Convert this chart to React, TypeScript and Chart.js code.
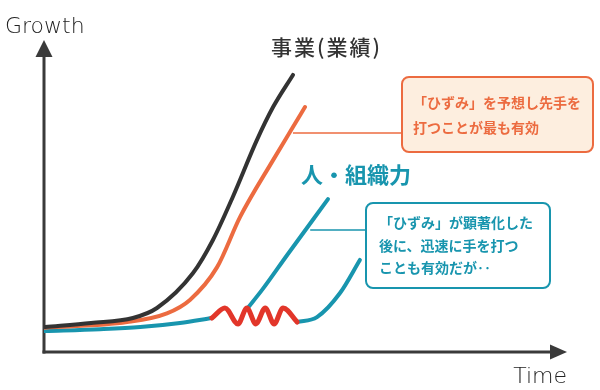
import React, { useEffect, useRef } from "react";
import { Chart, registerables } from "chart.js";

Chart.register(...registerables);

// Time (x) and Growth (y) readings, in percent of the axis range
const businessTime = [0.2, 9, 17, 21.6, 28.5, 32.3, 36.1, 40.7, 43.8, 47.6];
const businessGrowth = [8.0, 9.3, 10.9, 14.1, 25.3, 35.9, 49.7, 67.9, 78.5, 88.8];

const foresightTime = [0.2, 15.9, 23.5, 27.9, 33.1, 37.5, 43.8, 47.6, 49.9];
const foresightGrowth = [7.8, 9.6, 12.4, 16.7, 27.2, 43.3, 61.5, 72.1, 78.5];

const peopleTime = [0.2, 10.7, 18.4, 26, 32.1];
const peopleGrowth = [6.7, 7.3, 8.0, 9.3, 10.9];

const distortionTime = [32.1, 34.6, 37.1, 38.8, 40.5, 42.3, 44.0, 45.7, 48.4];
const distortionGrowth = [10.9, 14.1, 9.0, 14.1, 9.0, 14.1, 9.0, 14.1, 9.6];

const quickTime = [38.8, 41.7, 46.5, 54.3];
const quickGrowth = [13.8, 19.9, 31.1, 49.0];

const lateTime = [48.4, 52.2, 56.6, 60.4];
const lateGrowth = [9.6, 11.2, 18.9, 29.5];

const xAxisLabel = "Time";
const yAxisLabel = "Growth";
const businessLabel = "事業(業績)";
const peopleLabel = "人・組織力";
const foresightNote = ["「ひずみ」を予想し先手を", "打つことが最も有効"];
const quickNote = ["「ひずみ」が顕著化した", "後に、迅速に手を打つ", "ことも有効だが‥"];

const DARK = "#333333";
const ORANGE = "#EC6B40";
const TEAL = "#1895AE";
const RED = "#E2362A";
const JP = '"Noto Sans CJK JP", "Noto Sans", sans-serif';

const pts = (xs: number[], ys: number[]) => xs.map((x, i) => ({ x, y: ys[i] }));

const decor = {
  id: "decor",
  beforeDatasetsDraw(chart: any) {
    const ctx = chart.ctx as CanvasRenderingContext2D;
    const { left, right, top, bottom } = chart.chartArea;
    ctx.save();
    ctx.strokeStyle = "#3a3a3a";
    ctx.fillStyle = "#3a3a3a";
    ctx.lineWidth = 3;
    ctx.lineCap = "butt";
    // y axis
    ctx.beginPath();
    ctx.moveTo(left, bottom + 1.5);
    ctx.lineTo(left, top + 14);
    ctx.stroke();
    ctx.beginPath();
    ctx.moveTo(left, top);
    ctx.lineTo(left - 8.5, top + 17);
    ctx.lineTo(left + 8.5, top + 17);
    ctx.closePath();
    ctx.fill();
    // x axis
    ctx.beginPath();
    ctx.moveTo(left - 1.5, bottom);
    ctx.lineTo(right - 14, bottom);
    ctx.stroke();
    ctx.beginPath();
    ctx.moveTo(right, bottom);
    ctx.lineTo(right - 17, bottom - 7.5);
    ctx.lineTo(right - 17, bottom + 7.5);
    ctx.closePath();
    ctx.fill();

    ctx.fillStyle = "#222";
    ctx.textBaseline = "middle";
    ctx.font = '200 22px "DejaVu Sans", sans-serif';
    ctx.textAlign = "left";
    ctx.fillText(yAxisLabel, 5, 27);
    ctx.textAlign = "right";
    ctx.fillText(xAxisLabel, right, 377);

    // connectors
    const xs = chart.scales.x;
    ctx.lineWidth = 1.5;
    ctx.strokeStyle = ORANGE;
    ctx.beginPath();
    ctx.moveTo(xs.getPixelForValue(47.6), 133);
    ctx.lineTo(402, 133);
    ctx.stroke();
    ctx.strokeStyle = TEAL;
    ctx.beginPath();
    ctx.moveTo(xs.getPixelForValue(50.9), 230);
    ctx.lineTo(366, 230);
    ctx.stroke();

    // boxes
    ctx.lineWidth = 2;
    ctx.fillStyle = "#FDEEDF";
    ctx.strokeStyle = ORANGE;
    ctx.beginPath();
    (ctx as any).roundRect(402, 77, 191, 75, 7);
    ctx.fill();
    ctx.stroke();
    ctx.fillStyle = "#ffffff";
    ctx.strokeStyle = TEAL;
    ctx.beginPath();
    (ctx as any).roundRect(366, 203, 184, 85, 7);
    ctx.fill();
    ctx.stroke();

    ctx.textAlign = "left";
    ctx.font = `bold 14px ${JP}`;
    ctx.fillStyle = ORANGE;
    foresightNote.forEach((t, i) => ctx.fillText(t, 413, 103 + i * 25));
    ctx.fillStyle = TEAL;
    quickNote.forEach((t, i) => ctx.fillText(t, 379, 223 + i * 22.5));

    ctx.font = `500 21px ${JP}`;
    (ctx as any).letterSpacing = "2px";
    ctx.fillStyle = DARK;
    ctx.fillText(businessLabel, 271, 47);
    (ctx as any).letterSpacing = "0px";
    ctx.font = `bold 22px ${JP}`;
    ctx.fillStyle = TEAL;
    ctx.fillText(peopleLabel, 301, 175);
    ctx.restore();
  },
};

export default function App() {
  const ref = useRef<HTMLCanvasElement>(null);
  useEffect(() => {
    document.body.style.margin = "0";
    const line = (data: any, color: string, order: number, width = 4) => ({
      data,
      borderColor: color,
      backgroundColor: color,
      borderWidth: width,
      pointRadius: 0,
      cubicInterpolationMode: "monotone" as const,
      borderCapStyle: "round" as const,
      borderJoinStyle: "round" as const,
      fill: false,
      order,
    });
    const chart = new Chart(ref.current!, {
      type: "line",
      data: {
        datasets: [
          line(pts(peopleTime, peopleGrowth), TEAL, 5),
          line(pts(quickTime, quickGrowth), TEAL, 4),
          line(pts(lateTime, lateGrowth), TEAL, 4),
          line(pts(foresightTime, foresightGrowth), ORANGE, 3),
          line(pts(businessTime, businessGrowth), DARK, 2),
          line(pts(distortionTime, distortionGrowth), RED, 1, 5),
        ],
      },
      options: {
        animation: false,
        responsive: false,
        layout: { padding: { left: 44, right: 33, top: 40, bottom: 38 } },
        plugins: { legend: { display: false }, tooltip: { enabled: false } },
        scales: {
          x: { type: "linear", min: 0, max: 100, display: false },
          y: { type: "linear", min: 0, max: 100, display: false },
        },
      },
      plugins: [decor],
    });
    return () => chart.destroy();
  }, []);
  return (
    <div style={{ width: 600, height: 390 }}>
      <canvas ref={ref} width={600} height={390} />
    </div>
  );
}
